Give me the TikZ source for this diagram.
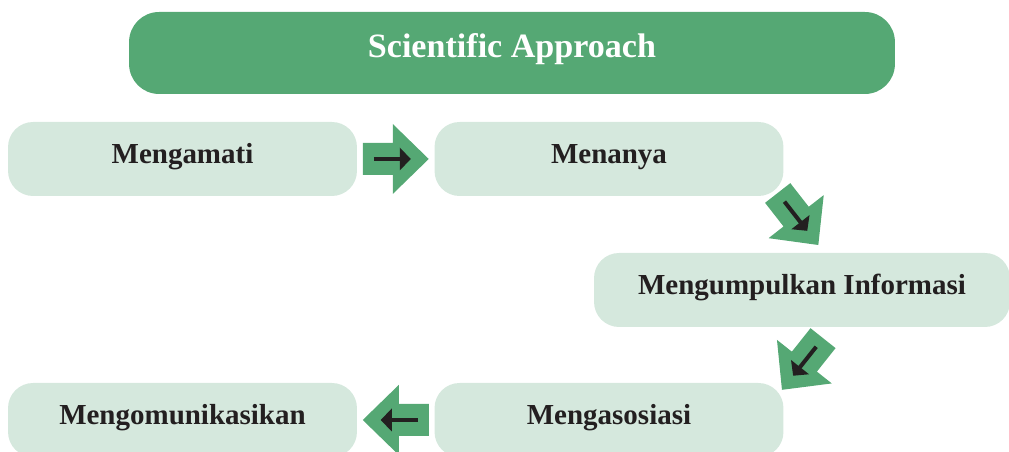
\documentclass[tikz,border=0pt]{standalone}
\usepackage{fontspec}
\setmainfont{Liberation Serif}
\usetikzlibrary{calc}
\definecolor{sciGreen}{RGB}{85,168,116}
\definecolor{stepGreen}{RGB}{213,232,221}
\definecolor{inkBlack}{RGB}{35,31,32}

\begin{document}
\begin{tikzpicture}[
        x=0.02cm, y=0.02cm,
        title/.style={fill=sciGreen,rounded corners=0.6cm,minimum width=15.32cm,minimum height=1.64cm,text height=13.4pt,text depth=8.8pt,text=white,font=\fontsize{19.4}{23}\selectfont\bfseries},
        box/.style={fill=stepGreen,rounded corners=0.5cm,minimum width=6.98cm,minimum height=1.48cm,text height=11.1pt,text depth=6.4pt,text=inkBlack,font=\fontsize{16.5}{19}\selectfont\bfseries},
        pointer/.style={fill=sciGreen},
      ]

      \useasboundingbox (0,0) rectangle (1009,452);

      \path (512,399) node[title] (title) {Scientific Approach};

      \path (182.5,293) node[box] (mengamati) {Mengamati};
      \path (609,293) node[box] (menanya) {Menanya};
      \path (802,162) node[box,minimum width=8.32cm] (mengumpulkan) {Mengumpulkan Informasi};
      \path (609,32) node[box] (mengasosiasi) {Mengasosiasi};
      \path (182.5,32) node[box] (mengomunikasikan) {Mengomunikasikan};

      \coordinate (a1) at ($(mengamati.east)!0.5!(menanya.west)$);
      \coordinate (a2) at (798,233);
      \coordinate (a3) at (802.5,88);
      \coordinate (a4) at ($(mengomunikasikan.east)!0.5!(mengasosiasi.west)$);

      \foreach \spot/\ang in {a1/0, a2/-52, a3/-128.5, a4/180} {
        \begin{scope}[shift={(\spot)},rotate=\ang]
          \fill[pointer] (-33,-16) -- (-3,-16) -- (-3,-35) -- (33,0) -- (-3,35) -- (-3,16) -- (-33,16) -- cycle;
          \draw[inkBlack,line width=0.08cm] (-22,0) -- (5,0);
          \fill[inkBlack] (4,-11.5) -- (15,0) -- (4,11.5) -- cycle;
        \end{scope}
      }

    \end{tikzpicture}
\end{document}
